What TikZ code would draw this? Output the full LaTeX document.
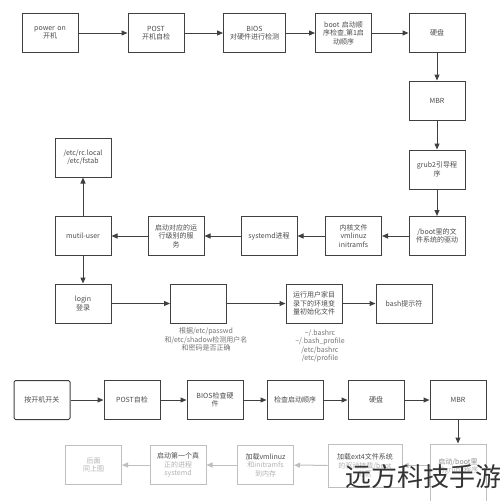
\documentclass[tikz,border=0pt]{standalone}
\usepackage{fontspec}
\setmainfont{Noto Sans CJK SC}
\usepackage{tikz}
\usetikzlibrary{arrows.meta,positioning}

\begin{document}
\begin{tikzpicture}[x=1pt,y=-1pt]
\tikzset{every node/.style={font=\fontsize{7}{8.5}\selectfont,align=center,text=black!70}}
\tikzset{box/.style={draw=black!75,line width=1pt,minimum width=56pt,minimum height=39pt,inner sep=1pt,text width=52pt}}
\tikzset{rbox/.style={box,rounded corners=1.5pt}}
\tikzset{fbox/.style={box,draw=black!25,text=black!30}}
\tikzset{link/.style={draw=black!75,line width=1pt,-{Triangle[length=6pt,width=5pt]}}}
\tikzset{flink/.style={link,draw=black!25}}
\tikzset{note/.style={text=black!55}}
\fill[white] (0,0) rectangle (500,501);
\useasboundingbox (0,0) rectangle (500,501);
\clip (0,0) rectangle (500,501);
\node[box] (pwr) at (50,33) {power on\\开机};
\node[box] (post) at (156,33) {POST\\开机自检};
\node[box,minimum width=62pt,text width=60pt] (bios) at (254.5,33) {BIOS\\对硬件进行检测};
\node[box] (bootseq) at (343.5,33) {boot 启动顺\\序检查,第1启\\动顺序};
\node[box] (disk) at (437,33) {硬盘};
\node[box] (mbr) at (437,100.5) {MBR};
\node[box] (grub) at (437,169.5) {grub2引导程\\序};
\node[box] (bootdrv) at (437,236) {/boot里的文\\件系统的驱动};
\node[box] (kernel) at (353.5,236) {内核文件\\vmlinuz\\initramfs};
\node[box] (systemd) at (269,236) {systemd进程};
\node[box] (runlvl) at (176,236) {启动对应的运\\行级别的服\\务};
\node[box] (multi) at (83,236) {mutil-user};
\node[box] (rclocal) at (83,157.5) {/etc/rc.local\\/etc/fstab};
\node[box] (login) at (83,303.5) {login\\登录};
\node[box] (passwd) at (198.5,303.5) {};
\node[box] (envinit) at (314,303.5) {运行用户家目\\录下的环境变\\量初始化文件};
\node[box] (bashp) at (404,303.5) {bash提示符};
\node[note,text width=100pt] (passwdtxt) at (206,339.5) {根据/etc/passwd\\和/etc/shadow检测用户名\\和密码是否正确};
\node[note,text width=70pt] (envtxt) at (320,346) {\textasciitilde/.bashrc\\\textasciitilde/.bash\_profile\\/etc/bashrc\\/etc/profile};
\draw[link] (pwr) -- (post);
\draw[link] (post) -- (bios);
\draw[link] (bios) -- (bootseq);
\draw[link] (bootseq) -- (disk);
\draw[link] (disk) -- (mbr);
\draw[link] (mbr) -- (grub);
\draw[link] (grub) -- (bootdrv);
\draw[link] (bootdrv) -- (kernel);
\draw[link] (kernel) -- (systemd);
\draw[link] (systemd) -- (runlvl);
\draw[link] (runlvl) -- (multi);
\draw[link] (multi) -- (rclocal);
\draw[link] (multi) -- (login);
\draw[link] (login) -- (passwd);
\draw[link] (passwd) -- (envinit);
\draw[link] (envinit) -- (bashp);
\node[rbox] (b1) at (42,400) {按开机开关};
\node[box] (b2) at (132,400) {POST自检};
\node[box] (b3) at (215,400) {BIOS检查硬\\件};
\node[box] (b4) at (295,400) {检查启动顺序};
\node[box] (b5) at (376,400) {硬盘};
\node[box] (b6) at (458,400) {MBR};
\node[fbox,minimum height=60pt] (c1) at (458,474) {\textcolor{black!45}{启动/boot里}\\的grub2程序\\\mbox{}\\\mbox{}};
\node[fbox,minimum width=74pt,text width=72pt,minimum height=43pt] (c2) at (365,465.5) {\textcolor{black!70}{加载ext4文件系统}\\的驱动挂载/boot\\分区};
\node[fbox] (c3) at (265.5,465) {\textcolor{black!70}{加载vmlinuz}\\和initramfs\\到内存};
\node[fbox] (c4) at (178,465) {\textcolor{black!70}{启动第一个真}\\正的进程\\systemd};
\node[fbox] (c5) at (93.5,465) {后面\\同上图};
\draw[link] (b1) -- (b2);
\draw[link] (b2) -- (b3);
\draw[link] (b3) -- (b4);
\draw[link] (b4) -- (b5);
\draw[link] (b5) -- (b6);
\draw[link] (b6) -- (b6 |- c1.north);
\draw[flink] (c1.west |- c2) -- (c2);
\draw[flink] (c2) -- (c3);
\draw[flink] (c3) -- (c4);
\draw[flink] (c4) -- (c5);
\node[text=black!80,font=\fontsize{26}{28}\selectfont] (mark) at (423,477) {远方科技手游};
\end{tikzpicture}
\end{document}
